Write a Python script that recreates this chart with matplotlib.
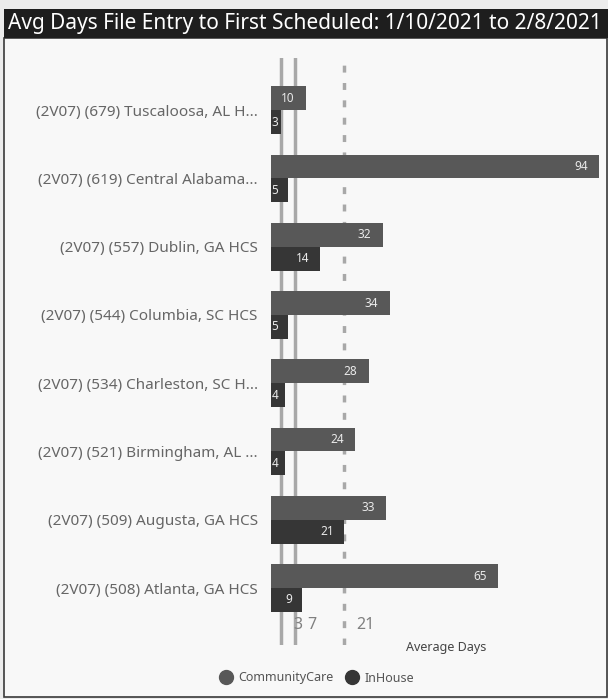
import matplotlib.pyplot as plt
import matplotlib.patches as mpatches
from matplotlib.lines import Line2D

plt.rcParams['font.family'] = ['Noto Sans', 'DejaVu Sans']

facilities = [
    "(2V07) (679) Tuscaloosa, AL H...",
    "(2V07) (619) Central Alabama...",
    "(2V07) (557) Dublin, GA HCS",
    "(2V07) (544) Columbia, SC HCS",
    "(2V07) (534) Charleston, SC H...",
    "(2V07) (521) Birmingham, AL ...",
    "(2V07) (509) Augusta, GA HCS",
    "(2V07) (508) Atlanta, GA HCS",
]
community_care = [10, 94, 32, 34, 28, 24, 33, 65]
in_house = [3, 5, 14, 5, 4, 4, 21, 9]
ref_lines = [3, 7, 21]

cc_color = '#585858'
ih_color = '#363636'

fig = plt.figure(figsize=(6.08, 6.99), dpi=100, facecolor='#ececec')

# panel frame and title bar
fig.patches.append(mpatches.Rectangle((4 / 608, 2 / 699), 0.999 - 4 / 608, 659 / 699,
                                      transform=fig.transFigure, facecolor='#f8f8f8',
                                      edgecolor='#3a3a3a', linewidth=1.2, zorder=-2))
fig.patches.append(mpatches.Rectangle((4 / 608, 1 - 38 / 699), 1, 29 / 699,
                                      transform=fig.transFigure, facecolor='#1e1e1e',
                                      edgecolor='none', zorder=-1))
fig.text(8 / 608, 1 - 24 / 699, "Avg Days File Entry to First Scheduled: 1/10/2021 to 2/8/2021",
         color='white', fontsize=15, va='center', ha='left')

ax = fig.add_axes([271 / 608, 1 - 645 / 699, 334 / 608, 587 / 699])
ax.set_facecolor('none')
ax.set_zorder(2)

h = 0.35
ys = list(range(len(facilities)))
ax.barh([y - h / 2 for y in ys], community_care, height=h, color=cc_color, zorder=3)
ax.barh([y + h / 2 for y in ys], in_house, height=h, color=ih_color, zorder=3)

for y, v in zip(ys, community_care):
    ax.text(v - 3.2, y - h / 2, str(v), color='#eaeaea', fontsize=8.5,
            ha='right', va='center', zorder=4, fontweight='medium')
for y, v in zip(ys, in_house):
    if v >= 9:
        ax.text(v - 3.0, y + h / 2, str(v), color='#eaeaea', fontsize=8.5,
                ha='right', va='center', zorder=4, fontweight='medium')
    else:
        ax.text(0.2, y + h / 2, str(v), color='#eaeaea', fontsize=8.5,
                ha='left', va='center', zorder=4, fontweight='medium')

ax.axvline(ref_lines[0], color='#a8a8a8', linewidth=2.5, zorder=1)
ax.axvline(ref_lines[1], color='#a8a8a8', linewidth=2.5, zorder=1)
ax.axvline(ref_lines[2], color='#a8a8a8', linewidth=2.5, linestyle=(0, (2, 3)), zorder=1)
for r in ref_lines:
    ax.text(r + 3.3, 7.54, str(r), color='#808080', fontsize=11.5, ha='left', va='center', zorder=2)

ax.set_xlim(0, 95.7)
ax.set_ylim(7.835, -0.765)
ax.set_yticks(ys)
ax.set_yticklabels(facilities, fontsize=11, color='#666666')
ax.tick_params(axis='y', length=0, pad=9.5)
ax.set_xticks([])
for s in ax.spines.values():
    s.set_visible(False)

fig.text(446 / 608, 1 - 648 / 699, "Average Days", fontsize=9, color='#444444',
         ha='center', va='center')

handles = [Line2D([], [], marker='o', linestyle='', color=cc_color, markersize=10),
           Line2D([], [], marker='o', linestyle='', color=ih_color, markersize=10)]
fig.legend(handles, ['CommunityCare', 'InHouse'], loc='center', ncol=2,
           bbox_to_anchor=(314 / 608, 1 - 678 / 699), frameon=False, fontsize=9,
           handletextpad=0.0, columnspacing=0.5, labelcolor='#555555')

plt.savefig('out.png', dpi=100, facecolor=fig.get_facecolor())
